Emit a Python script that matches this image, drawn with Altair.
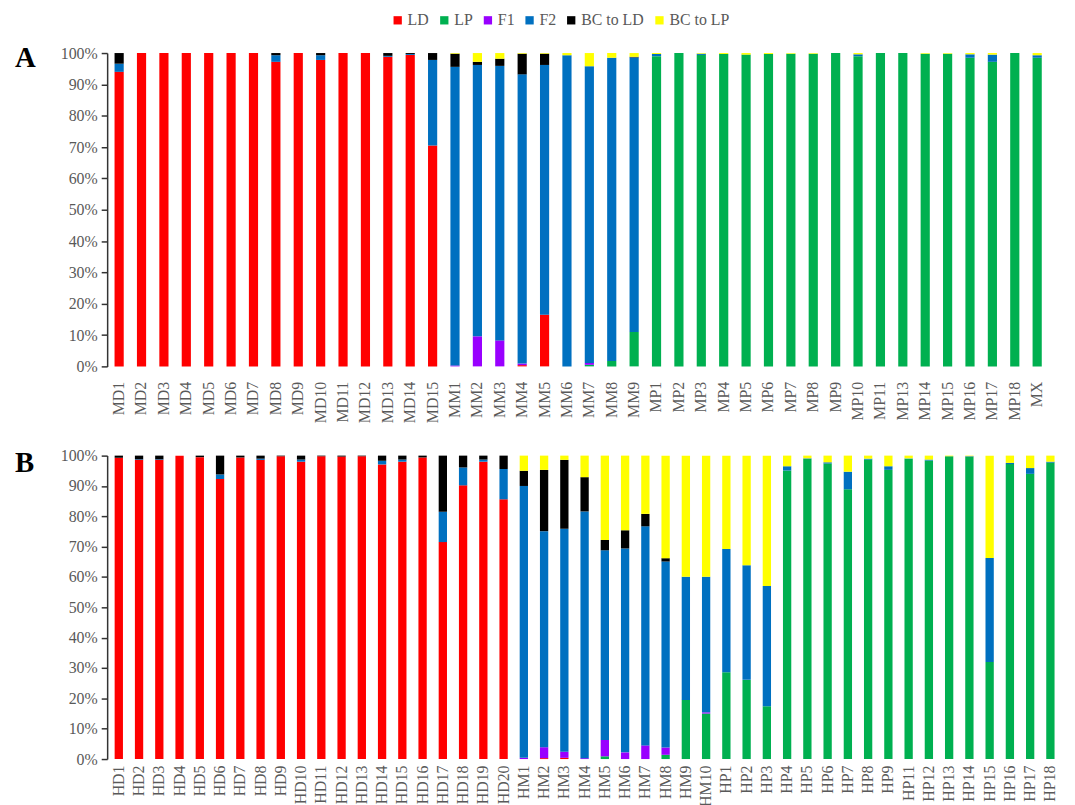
import altair as alt
import pandas as pd

cats = ["LD", "LP", "F1", "F2", "BC to LD", "BC to LP"]
colors = ["#FF0000", "#00B050", "#9900FF", "#0070C0", "#000000", "#FFFF00"]

# ---------------- Panel A ----------------
names_A = [f"MD{i}" for i in range(1, 16)] + [f"MM{i}" for i in range(1, 10)] + \
          [f"MP{i}" for i in range(1, 12)] + [f"MP{i}" for i in range(13, 19)] + ["MX"]

LD_A = [94.0, 100, 100, 100, 100, 100, 100, 97.2, 100, 97.8, 100, 100, 98.8, 99.4, 70.5,
        0, 0, 0, 0.4, 16.5, 0, 0, 0, 0,
        0, 0, 0, 0, 0, 0, 0, 0, 0, 0, 0, 0, 0, 0, 0, 0, 0, 0]
LP_A = [0] * 15 + [0, 0, 0, 0, 0, 0, 0.5, 1.7, 11.0] + \
       [99.0, 100, 99.4, 99.7, 99.5, 99.7, 99.8, 99.8, 100, 99.0, 100,
        100, 99.8, 99.8, 98.5, 97.2, 100, 98.5]
F1_A = [0] * 15 + [0.3, 9.6, 8.3, 0.5, 0, 0, 0.6, 0, 0] + [0] * 18
F2_A = [2.6, 0, 0, 0, 0, 0, 0, 2.1, 0, 1.5, 0, 0, 0.3, 0.3, 27.3,
        95.3, 86.6, 87.6, 92.3, 79.7, 99.3, 94.7, 96.8, 87.6,
        0.7, 0, 0.4, 0, 0, 0, 0, 0, 0, 0.6, 0, 0, 0, 0, 1.1, 2.3, 0, 0.8]
BCLD_A = [3.4, 0, 0, 0, 0, 0, 0, 0.7, 0, 0.7, 0, 0, 0.9, 0.3, 2.2,
          4.2, 1.0, 2.3, 6.6, 3.6, 0, 0, 0, 0.2] + [0] * 18
BCLP_A = [0] * 15 + [0.2, 2.8, 1.8, 0.2, 0.2, 0.7, 4.2, 1.5, 1.2] + \
         [0.3, 0, 0.2, 0.3, 0.5, 0.3, 0.2, 0.2, 0, 0.4, 0,
          0, 0.2, 0.2, 0.4, 0.5, 0, 0.7]

# ---------------- Panel B ----------------
names_B = [f"HD{i}" for i in range(1, 21)] + [f"HM{i}" for i in range(1, 11)] + \
          [f"HP{i}" for i in range(1, 10)] + [f"HP{i}" for i in range(11, 19)]

LD_B = [99.3, 98.6, 98.6, 100, 99.5, 92.3, 99.4, 98.6, 99.8, 98.0,
        99.8, 99.7, 99.8, 97.1, 98.0, 99.4, 71.5, 90.2, 98.0, 85.6,
        0, 0.3, 0.4, 0, 0, 0, 0, 0, 0, 0] + [0] * 17
LP_B = [0] * 20 + [0, 0, 0, 0, 0.9, 0, 0, 1.4, 19.5, 15.0] + \
       [28.6, 26.1, 17.4, 95.1, 98.9, 97.4, 88.9, 98.7, 95.3,
        99.0, 98.4, 99.8, 99.6, 32.0, 97.2, 94.0, 97.7]
F1_B = [0] * 20 + [0.4, 3.6, 2.0, 0.3, 5.4, 2.2, 4.5, 2.4, 0, 0.4] + [0] * 17
F2_B = [0, 0.2, 0.2, 0, 0, 1.5, 0, 0.4, 0, 0.7,
        0, 0, 0, 1.2, 0.7, 0, 10.0, 5.9, 0.7, 10.0,
        89.6, 71.2, 73.5, 81.3, 62.5, 67.2, 72.2, 61.3, 40.6, 44.7,
        40.6, 37.8, 39.6, 1.4, 0.2, 0.4, 5.8, 0.3, 1.2,
        0.1, 0.3, 0, 0.2, 34.3, 0.4, 1.9, 0.3]
BCLD_B = [0.7, 1.2, 1.2, 0, 0.5, 6.2, 0.6, 1.0, 0.2, 1.3,
          0.2, 0.3, 0.2, 1.7, 1.3, 0.6, 18.5, 3.9, 1.3, 4.4,
          5.0, 20.2, 22.7, 11.3, 3.4, 6.0, 4.1, 1.1, 0, 0] + [0] * 17
BCLP_B = [0] * 20 + [5.0, 4.7, 1.4, 7.1, 27.8, 24.6, 19.2, 33.8, 39.9, 39.9] + \
         [30.8, 36.1, 43.0, 3.5, 0.9, 2.2, 5.3, 1.0, 3.5,
          0.9, 1.3, 0.2, 0.2, 33.7, 2.4, 4.1, 2.0]


def long_df(names, series):
    rows = []
    for ci, (cat, vals) in enumerate(zip(cats, series)):
        for n, v in zip(names, vals):
            rows.append({"sample": n, "cat": cat, "value": v, "ord": ci})
    return pd.DataFrame(rows)


dfA = long_df(names_A, [LD_A, LP_A, F1_A, F2_A, BCLD_A, BCLP_A])
dfB = long_df(names_B, [LD_B, LP_B, F1_B, F2_B, BCLD_B, BCLP_B])

FONT = "Liberation Serif"
GRAY = "#595959"

color_enc = alt.Color(
    "cat:N",
    scale=alt.Scale(domain=cats, range=colors),
    legend=alt.Legend(
        title=None, orient="none", direction="horizontal",
        legendX=285, legendY=-41,
        symbolType="square", symbolSize=70, symbolStrokeWidth=0,
        labelFont=FONT, labelFontSize=16, labelColor=GRAY,
        columnPadding=7, labelOffset=2,
    ),
)

yaxis = alt.Axis(
    values=[i / 10 for i in range(11)], format=".0%", title=None, grid=False,
    labelFont=FONT, labelFontSize=16, labelColor=GRAY,
    domainColor="#333333", domainWidth=1.5, tickColor="#333333", tickWidth=1.5,
    tickSize=6, labelPadding=4,
)


def panel(df, names, width, height, pin, pout, lpad, letter, ly):
    bars = alt.Chart(df).mark_bar().encode(
        x=alt.X("sample:N", sort=names,
                scale=alt.Scale(paddingInner=pin, paddingOuter=pout),
                axis=alt.Axis(title=None, labelAngle=-90, domain=False, ticks=False,
                              labelFont=FONT, labelFontSize=16, labelColor=GRAY,
                              labelPadding=lpad)),
        y=alt.Y("value:Q", stack="normalize", axis=yaxis,
                scale=alt.Scale(domain=[0, 1], nice=False)),
        color=color_enc,
        order=alt.Order("ord:Q", sort="ascending"),
    )
    txt = alt.Chart(pd.DataFrame({"t": [letter]})).mark_text(
        font=FONT, fontSize=29, fontWeight="bold", align="left",
        baseline="alphabetic", color="#000000"
    ).encode(text="t:N", x=alt.value(-93), y=alt.value(ly))
    return alt.layer(bars, txt).properties(width=width, height=height)


pA = panel(dfA, names_A, 950, 316, 0.59, 0.33, 15, "A", 14)
pB = panel(dfB, names_B, 963, 306, 0.59, 0.37, 6, "B", 17)

chart = alt.vconcat(pA, pB, spacing=25).properties(
    padding={"left": 7, "top": 1, "right": 5, "bottom": 5}
).configure_view(strokeWidth=0)

chart.save("out.html", embed_options={"renderer": "svg", "actions": False})
